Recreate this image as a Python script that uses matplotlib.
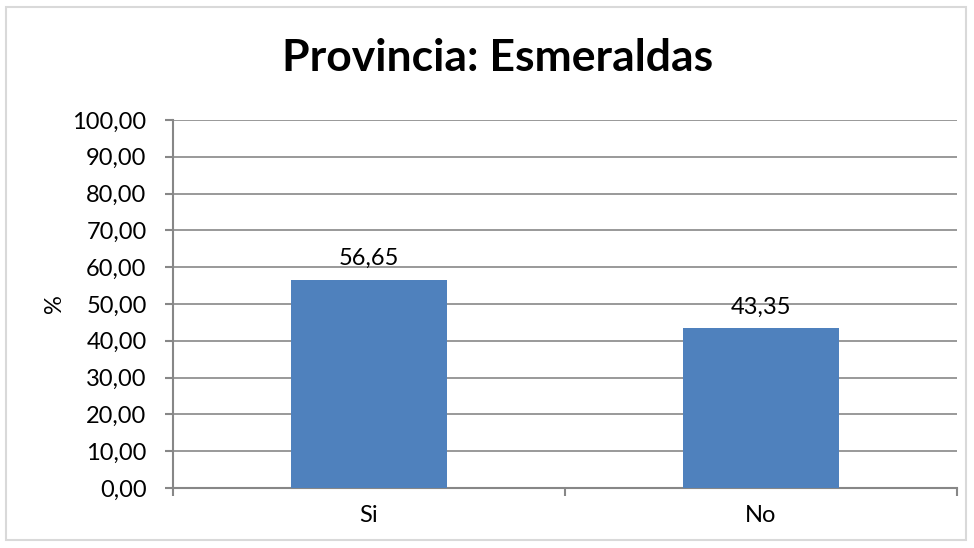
import matplotlib.pyplot as plt
from matplotlib.patches import Rectangle

# Data
categories = ["Si", "No"]
values = [56.65, 43.35]
yticks = [0, 10, 20, 30, 40, 50, 60, 70, 80, 90, 100]

plt.rcParams['font.family'] = ['Lato', 'DejaVu Sans']

fig = plt.figure(figsize=(9.74, 5.48), dpi=100)
W, H = 974, 548
ax = fig.add_axes([173 / W, 1 - 488 / H, (957 - 173) / W, (488 - 120) / H])

x = list(range(len(categories)))
ax.bar(x, values, width=0.4, color='#4F81BD', zorder=3)

ax.set_xlim(-0.5, len(categories) - 0.5)
ax.set_ylim(0, 100)
ax.set_yticks(yticks)
ax.set_yticklabels([f"{v:.2f}".replace('.', ',') for v in yticks], fontsize=17)
ax.set_xticks(x)
ax.set_xticklabels(categories, fontsize=17)
ax.tick_params(axis='x', length=0, pad=12)
ax.tick_params(axis='y', length=6, width=1.5, color='#878787', pad=13)

# category boundary ticks on x axis
ax.set_xticks([-0.5, 0.5, 1.5], minor=True)
ax.tick_params(axis='x', which='minor', length=6, width=1.5, color='#878787')

ax.grid(axis='y', color='#878787', linewidth=1.2, zorder=0)
for s in ['top', 'right']:
    ax.spines[s].set_visible(False)
for s in ['left', 'bottom']:
    ax.spines[s].set_color('#878787')
    ax.spines[s].set_linewidth(1.5)

for xi, v in zip(x, values):
    ax.text(xi, v + 3, f"{v:.2f}".replace('.', ','), ha='center', va='bottom', fontsize=17)

ax.set_ylabel('%', fontsize=17)
ax.yaxis.set_label_coords((65 - 173) / 784, 0.5)
fig.text(498 / W, 1 - 58 / H, 'Provincia: Esmeraldas', ha='center', va='center',
         fontsize=32, fontweight='bold')

# chart border
fig.patches.append(Rectangle((6 / W, 1 - 540 / H), (966 - 6) / W, (540 - 7) / H,
                             transform=fig.transFigure, fill=False,
                             edgecolor='#D9D9D9', linewidth=1.5))

fig.savefig('out.png', dpi=100)
